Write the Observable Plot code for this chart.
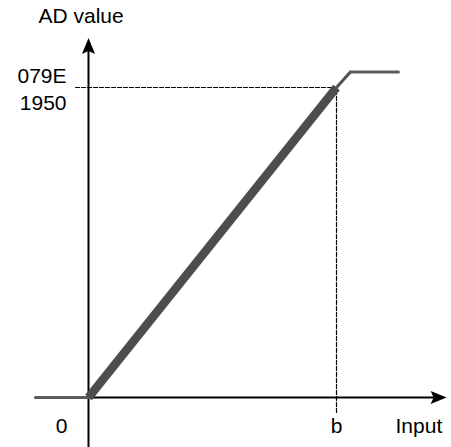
<!DOCTYPE html>
<html>
<head>
<meta charset="utf-8">
<script src="https://cdn.jsdelivr.net/npm/d3@7"></script>
<script src="https://cdn.jsdelivr.net/npm/@observablehq/plot@0.6"></script>
<style>
  html, body { margin: 0; padding: 0; background: #fff; }
  svg { display: block; }
</style>
</head>
<body>
<div id="chart"></div>
<script>
// ---- data (input in units of b, AD value in decimal counts) ----
const inputPts = [-0.214, 0, 1, 1.056, 1.25];
const adPts    = [0, 0, 1950, 2047, 2047];

// tick labels
const xTickValues = [0, 1];
const xTickLabels = ["0", "b"];
const yTickValues = [1950];
const yTickLabels = ["079E\n1950"];

// axis extents
const xAxisExtent = [0, 1.444];
const yAxisExtent = [-320, 2262];
const guideX = [-0.052, 1];
const guideY = [-94, 1950];

const titleY = "AD value";
const titleX = "Input";

const pts = inputPts.map((x, i) => ({x, y: adPts[i]}));
const seg = (a, b) => pts.slice(a, b + 1);

const arrowHead = {
  draw(ctx) {
    ctx.moveTo(0, 0);
    ctx.lineTo(-6.5, 16);
    ctx.lineTo(0, 13);
    ctx.lineTo(6.5, 16);
    ctx.closePath();
  }
};

const font = "'Liberation Sans', Arial, Helvetica, sans-serif";

const chart = Plot.plot({
  width: 451,
  height: 447,
  margin: 0,
  style: {fontFamily: font, fontSize: "21px", background: "#fff", overflow: "visible"},
  x: {domain: [0, 1], range: [88, 336], axis: null},
  y: {domain: [0, 1950], range: [397, 87], axis: null},
  marks: [
    // dashed guide lines
    Plot.line([{x: guideX[0], y: yTickValues[0]}, {x: guideX[1], y: yTickValues[0]}],
      {x: "x", y: "y", stroke: "#000", strokeWidth: 1.2, strokeDasharray: "4,2"}),
    Plot.line([{x: xTickValues[1], y: guideY[0]}, {x: xTickValues[1], y: guideY[1]}],
      {x: "x", y: "y", stroke: "#000", strokeWidth: 1.2, strokeDasharray: "4,2"}),
    // axes
    Plot.line([{x: xAxisExtent[0], y: 0}, {x: xAxisExtent[1] - 0.05, y: 0}],
      {x: "x", y: "y", stroke: "#000", strokeWidth: 2}),
    Plot.line([{x: 0, y: yAxisExtent[0]}, {x: 0, y: yAxisExtent[1] - 80}],
      {x: "x", y: "y", stroke: "#000", strokeWidth: 2}),
    Plot.dot([{x: 0, y: yAxisExtent[1]}], {x: "x", y: "y", symbol: arrowHead, fill: "#000", stroke: "none", r: 5}),
    Plot.dot([{x: xAxisExtent[1], y: 0}], {x: "x", y: "y", symbol: arrowHead, fill: "#000", stroke: "none", r: 5, rotate: 90}),
    // transfer curve
    Plot.line(seg(0, 1), {x: "x", y: "y", stroke: "#5a5a5a", strokeWidth: 3, strokeDasharray: "4,1.5"}),
    Plot.line(seg(1, 2), {x: "x", y: "y", stroke: "#4d4d4d", strokeWidth: 8.5, strokeLinecap: "butt"}),
    Plot.line(seg(2, 3), {x: "x", y: "y", stroke: "#505050", strokeWidth: 3}),
    Plot.line(seg(3, 4), {x: "x", y: "y", stroke: "#5a5a5a", strokeWidth: 3, strokeDasharray: "4,1.5"}),
    // tick labels
    Plot.text([xTickValues[0]], {x: d => d, y: 0, text: () => xTickLabels[0], dx: -27, dy: 29, fill: "#000"}),
    Plot.text([xTickValues[1]], {x: d => d, y: 0, text: () => xTickLabels[1], dy: 29, fill: "#000"}),
    Plot.text(yTickValues, {x: 0, y: d => d, text: (d, i) => yTickLabels[i], textAnchor: "end", dx: -22, lineHeight: 1.2857, fill: "#000"}),
    // axis titles
    Plot.text([titleX], {x: 1.238, y: 0, text: d => d, textAnchor: "start", dy: 29, fill: "#000"}),
    Plot.text([titleY], {x: -0.2016, y: 2400, text: d => d, textAnchor: "start", fill: "#000"})
  ]
});
document.getElementById("chart").appendChild(chart);
</script>
</body>
</html>
